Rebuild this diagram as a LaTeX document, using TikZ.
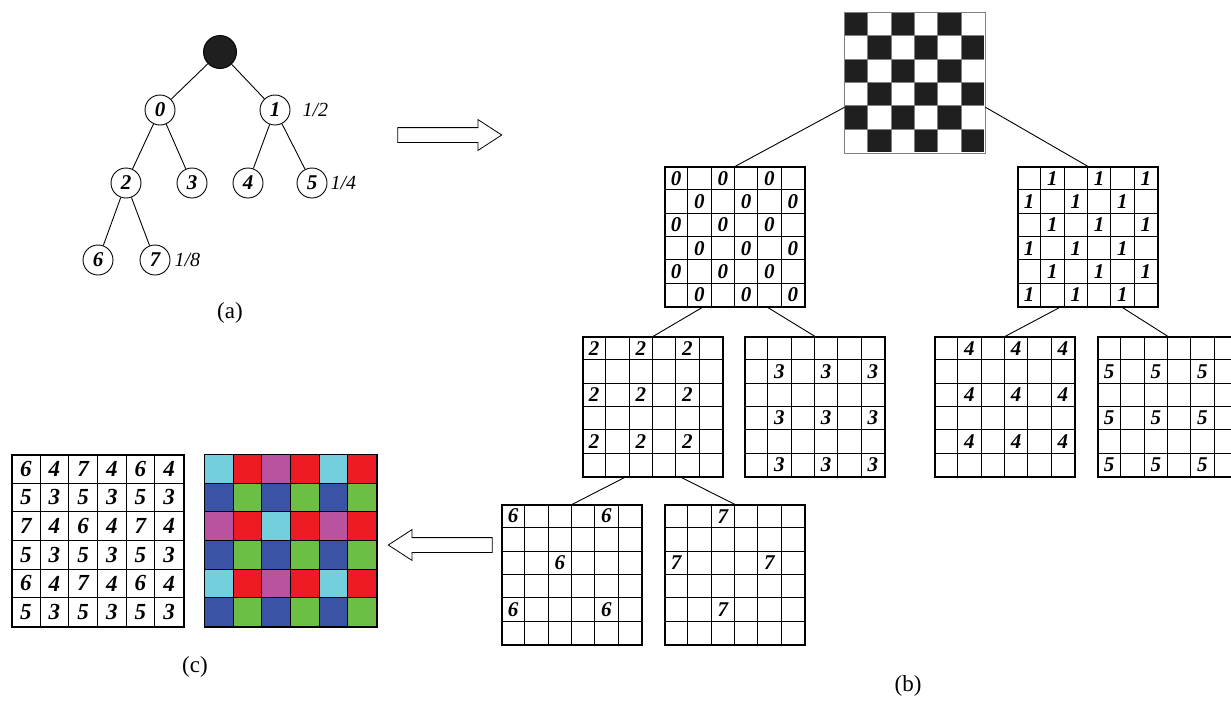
\documentclass[tikz,border=0pt]{standalone}
\usepackage{fontspec}
\setmainfont{Liberation Serif}
\usetikzlibrary{positioning,shapes.arrows,calc}

\definecolor{cell6}{RGB}{115,206,221}
\definecolor{cell4}{RGB}{237,28,36}
\definecolor{cell7}{RGB}{185,82,159}
\definecolor{cell5}{RGB}{58,83,164}
\definecolor{cell3}{RGB}{109,190,69}

\begin{document}
\begin{tikzpicture}[x=1pt, y=-1pt,
    tnode/.style={circle, draw, line width=0.9pt, minimum size=30pt, inner sep=0pt,
      font=\fontsize{21}{22}\selectfont\bfseries\itshape},
    branch/.style={line width=0.9pt},
    ratio/.style={anchor=west, font=\fontsize{20}{22}\selectfont\itshape},
    caption/.style={font=\fontsize{23}{24}\selectfont},
    board/.style={draw, line width=1.1pt, minimum size=140pt, inner sep=0pt},
    digit/.style={font=\fontsize{21}{22}\selectfont\bfseries\itshape},
    bigdigit/.style={font=\fontsize{23}{24}\selectfont\bfseries\itshape},
    hollow/.style={single arrow, draw, line width=0.8pt, fill=white,
      inner xsep=0pt, inner ysep=7pt, minimum height=104pt, minimum width=30pt,
      single arrow head extend=8pt, single arrow tip angle=66},
]
  \useasboundingbox (0,0) rectangle (1231,702);
  \clip (0,0) rectangle (1231,702);

  % (a) the tree
  \node[tnode, fill=black!88, minimum size=33pt] (root) at (220,52) {};
  \node[tnode] (t0) at (160,110) {0};
  \node[tnode] (t1) at (275,110) {1};
  \node[tnode] (t2) at (126,183) {2};
  \node[tnode] (t3) at (192,183) {3};
  \node[tnode] (t4) at (248,183) {4};
  \node[tnode] (t5) at (312,183) {5};
  \node[tnode] (t6) at (98,260) {6};
  \node[tnode] (t7) at (155,260) {7};
  \foreach \a/\b in {root/t0,root/t1,t0/t2,t0/t3,t1/t4,t1/t5,t2/t6,t2/t7}
    \draw[branch] (\a) -- (\b);
  \node[ratio] (r1) at (299,110) {1/2};
  \node[ratio] (r2) at (327,183) {1/4};
  \node[ratio] (r3) at (171,260) {1/8};
  \node[caption] (capA) at (230,313) {(a)};

  \node[hollow] (arrR) at (444,135) {};
  \node[hollow, shape border rotate=180] (arrL) at (446,545) {};

  % (b) the split boards
  \node[board, draw=none] (ck) at (915,83) {};
  \node[board] (g0) at (735,237) {};
  \node[board] (g1) at (1088,237) {};
  \node[board] (g2) at (653,407) {};
  \node[board] (g3) at (815,407) {};
  \node[board] (g4) at (1005,407) {};
  \node[board] (g5) at (1168,407) {};
  \node[board] (g6) at (572,575) {};
  \node[board] (g7) at (735,575) {};

  \foreach \r in {1,...,6}
    \foreach \c in {1,...,6} {
      \ifodd\numexpr\r+\c\relax
        \node[digit] (g1-\r-\c) at ($(g1.north west)+(\c*140/6-70/6,\r*140/6-70/6)$) {1};
      \else
        \fill[black!88] ($(ck.north west)+(\c*140/6-140/6,\r*140/6-140/6)$) rectangle ++(140/6,140/6);
        \node[digit] (g0-\r-\c) at ($(g0.north west)+(\c*140/6-70/6,\r*140/6-70/6)$) {0};
      \fi
    }
  \foreach \i in {1,...,5} {
    \draw[gray, line width=1.2pt] ($(ck.north west)+(\i*140/6,0)$) -- ++(0,140);
    \draw[gray, line width=1.2pt] ($(ck.north west)+(0,\i*140/6)$) -- ++(140,0);
  }
  \draw[gray, line width=1.2pt] (ck.north west) rectangle (ck.south east);

  \foreach \g in {g0,g1,g2,g3,g4,g5,g6,g7}
    \foreach \i in {1,...,5} {
      \draw[line width=1.1pt] ($(\g.north west)+(\i*140/6,0)$) -- ++(0,140);
      \draw[line width=1.1pt] ($(\g.north west)+(0,\i*140/6)$) -- ++(140,0);
    }

  \foreach \g/\v/\rows/\cols in {g2/2/{1,3,5}/{1,3,5}, g3/3/{2,4,6}/{2,4,6},
                                 g4/4/{1,3,5}/{2,4,6}, g5/5/{2,4,6}/{1,3,5}}
    \foreach \r in \rows
      \foreach \c in \cols
        \node[digit] (\g-\r-\c) at ($(\g.north west)+(\c*140/6-70/6,\r*140/6-70/6)$) {\v};
  \foreach \r/\c in {1/1,1/5,3/3,5/1,5/5}
    \node[digit] (g6-\r-\c) at ($(g6.north west)+(\c*140/6-70/6,\r*140/6-70/6)$) {6};
  \foreach \r/\c in {1/3,3/1,3/5,5/3}
    \node[digit] (g7-\r-\c) at ($(g7.north west)+(\c*140/6-70/6,\r*140/6-70/6)$) {7};

  \draw[branch] (ck.199) -- (g0.north);
  \draw[branch] (ck.341) -- (g1.north);
  \draw[branch] (g0.245) -- (g2.north);
  \draw[branch] (g0.295) -- (g3.north);
  \draw[branch] (g1.248) -- (g4.north);
  \draw[branch] (g1.296) -- (g5.north);
  \draw[branch] (g2.248) -- (g6.north);
  \draw[branch] (g2.292) -- (g7.north);
  \node[caption] (capB) at (908,686) {(b)};

  % (c) merged labels and colours
  \node[board, minimum size=172pt] (mix) at (98,541) {};
  \node[board, minimum size=172pt] (pal) at (291,541) {};
  \foreach \row [count=\r] in {{6,4,7,4,6,4},{5,3,5,3,5,3},{7,4,6,4,7,4},
                               {5,3,5,3,5,3},{6,4,7,4,6,4},{5,3,5,3,5,3}}
    \foreach \v [count=\c] in \row {
      \node[bigdigit] (mix-\r-\c) at ($(mix.north west)+(\c*172/6-86/6,\r*172/6-86/6)$) {\v};
      \fill[cell\v] ($(pal.north west)+(\c*172/6-172/6,\r*172/6-172/6)$) rectangle ++(172/6,172/6);
    }
  \foreach \g in {mix,pal}
    \foreach \i in {1,...,5} {
      \draw[line width=1.1pt] ($(\g.north west)+(\i*172/6,0)$) -- ++(0,172);
      \draw[line width=1.1pt] ($(\g.north west)+(0,\i*172/6)$) -- ++(172,0);
    }
  \draw[line width=1.1pt] (pal.north west) rectangle (pal.south east);
  \node[caption] (capC) at (195,667) {(c)};
\end{tikzpicture}
\end{document}
